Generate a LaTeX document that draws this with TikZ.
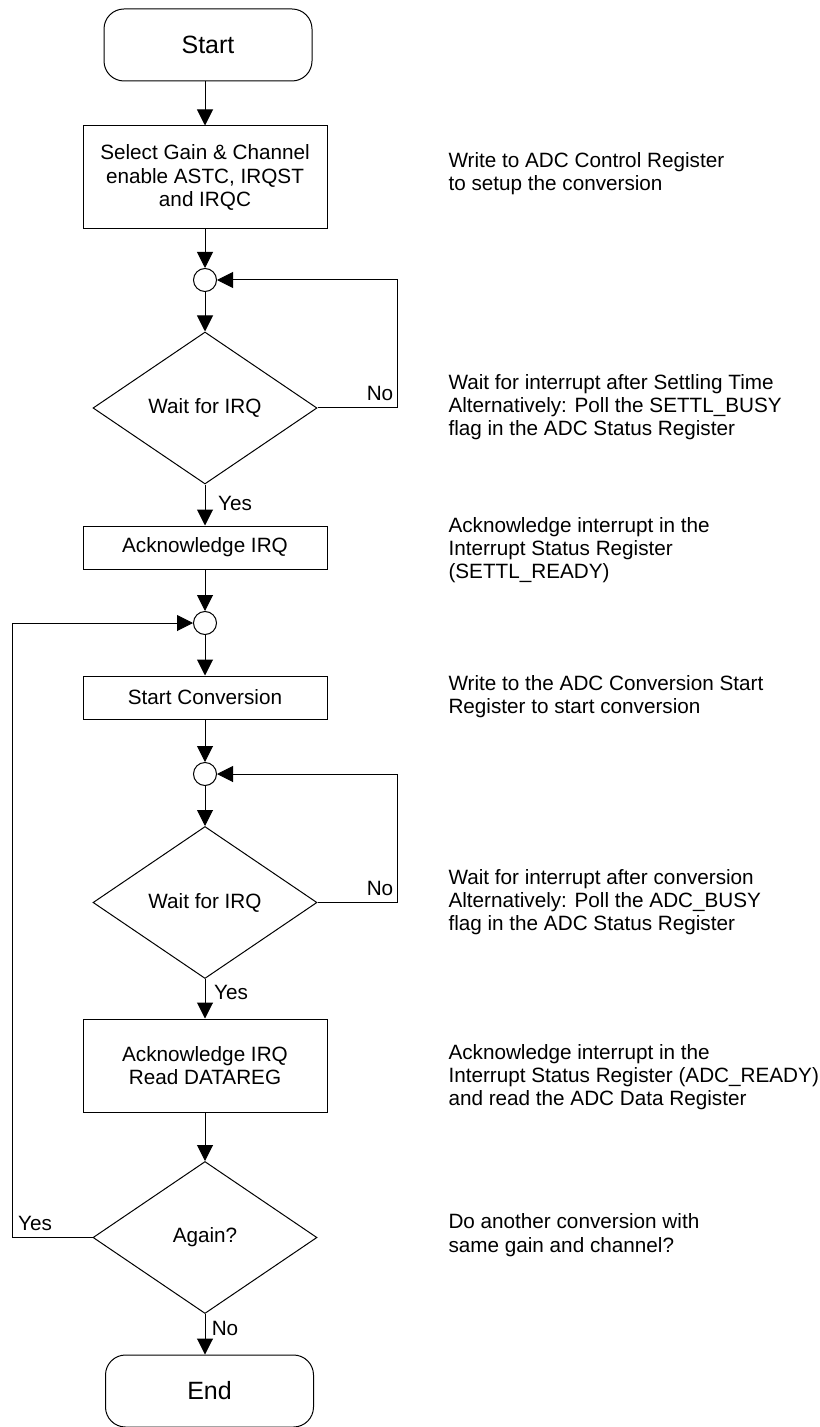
\documentclass[tikz,border=0pt]{standalone}
\usepackage{fontspec}
\setmainfont{Liberation Sans}
\usetikzlibrary{shapes.geometric,arrows.meta}

\begin{document}
\begin{tikzpicture}[x=0.5pt, y=-0.5pt, line width=0.5pt,
            every node/.style={font=\fontsize{10.35}{11.65}\selectfont},
            term/.style={draw, rounded corners=10pt, minimum width=104pt, minimum height=36pt, font=\fontsize{12.5}{15}\selectfont},
            box/.style={draw, align=center, minimum width=122pt, inner sep=0pt},
            decision/.style={draw, diamond, minimum width=112pt, minimum height=76pt, inner sep=0pt},
            joint/.style={draw, circle, minimum size=11.5pt, inner sep=0pt},
            note/.style={anchor=west, align=left, inner sep=0pt},
            flow/.style={-{Triangle[length=8pt, width=8pt]}}]
            \useasboundingbox (0, 0) rectangle (819, 1427);

            \node[term](start) at (208, 45) {Start};
            \node[box, minimum height=51.5pt](setup) at (205, 177.5) {Select Gain \& Channel\\enable ASTC, IRQST\\and IRQC};
            \node[joint](j1) at (205, 280) {};
            \node[decision](wait1) at (205, 408) {Wait for IRQ};
            \node[box, minimum height=21.5pt](ack1) at (205, 547.5) {Acknowledge IRQ};
            \node[joint](j2) at (205, 623) {};
            \node[box, minimum height=21.5pt](conv) at (205, 697.5) {Start Conversion};
            \node[joint](j3) at (205, 774) {};
            \node[decision](wait2) at (205, 902.5) {Wait for IRQ};
            \node[box, minimum height=46.5pt](ack2) at (205, 1065.5) {Acknowledge IRQ\\Read DATAREG};
            \node[decision](again) at (205, 1237.5) {Again?};
            \node[term](end) at (209.5, 1391) {End};

            \coordinate(loopR) at (397, 0);
            \coordinate(loopL) at (12, 0);

            \node(no1) at (380, 393) {No};
            \node(yes1) at (235, 503) {Yes};
            \node(no2) at (380, 888) {No};
            \node(yes2) at (231, 992) {Yes};
            \node(yes3) at (35, 1223) {Yes};
            \node(no3) at (225, 1328) {No};

            \node[note](n1) at (448, 174) {Write to ADC Control Register\\to setup the conversion};
            \node[note](n2) at (448, 407) {Wait for interrupt after Settling Time\\Alternatively: Poll the SETTL\_BUSY\\flag in the ADC Status Register};
            \node[note](n3) at (448, 550) {Acknowledge interrupt in the\\Interrupt Status Register\\(SETTL\_READY)};
            \node[note](n4) at (448, 696.5) {Write to the ADC Conversion Start\\Register to start conversion};
            \node[note](n5) at (448, 902) {Wait for interrupt after conversion\\Alternatively: Poll the ADC\_BUSY\\flag in the ADC Status Register};
            \node[note](n6) at (448, 1077) {Acknowledge interrupt in the\\Interrupt Status Register (ADC\_READY)\\and read the ADC Data Register};
            \node[note](n7) at (448, 1235) {Do another conversion with\\same gain and channel?};

            \draw[flow] (setup.north |- start.south) -- (setup);
            \draw[flow] (setup) -- (j1);
            \draw[flow] (j1) -- (wait1);
            \draw[flow] (wait1) -- (ack1);
            \draw[flow] (ack1) -- (j2);
            \draw[flow] (j2) -- (conv);
            \draw[flow] (conv) -- (j3);
            \draw[flow] (j3) -- (wait2);
            \draw[flow] (wait2) -- (ack2);
            \draw[flow] (ack2) -- (again);
            \draw[flow] (again.south) -- (again.south |- end.north);
            \draw[flow] (wait1.east) -- (wait1.east -| loopR) |- (j1.east);
            \draw[flow] (wait2.east) -- (wait2.east -| loopR) |- (j3.east);
            \draw[flow] (again.west) -- (again.west -| loopL) |- (j2.west);
        \end{tikzpicture}
\end{document}
